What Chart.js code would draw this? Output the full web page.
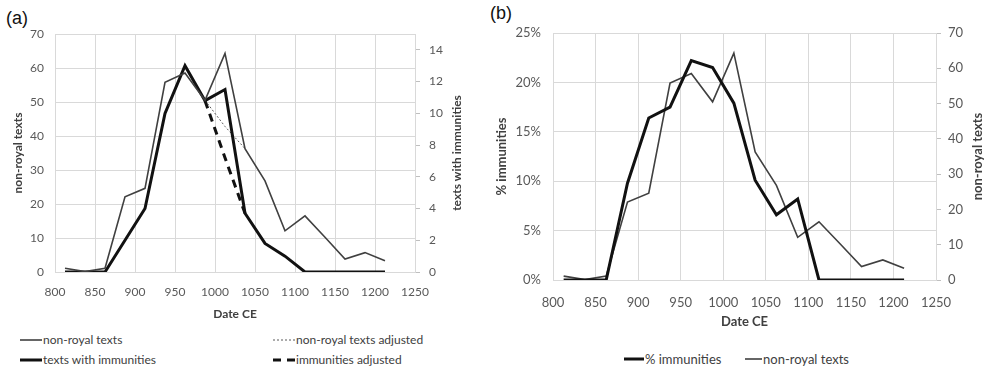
<!DOCTYPE html>
<html>
<head>
<meta charset="utf-8">
<script src="https://cdn.jsdelivr.net/npm/chart.js@4.4.0/dist/chart.umd.min.js"></script>
<style>
    body { margin: 0; background: #fff; width: 986px; height: 370px; position: relative; overflow: hidden; font-family: Lato, sans-serif; }
    .box { position: absolute; top: 0; }
    .tag { position: absolute; font-family: "Liberation Sans", Arial, sans-serif; font-size: 18px; color: #111; }
    .leg { position: absolute; color: #404040; white-space: nowrap; display: flex; align-items: center; }
    .leg svg { display: block; }
</style>
</head>
<body>
<div class="tag" style="left:6px;top:8px">(a)</div>
<div class="tag" style="left:490px;top:3px">(b)</div>
<div class="box" style="left:0;width:490px;height:325px"><canvas id="chartA"></canvas></div>
<div class="box" style="left:490px;width:496px;height:334px"><canvas id="chartB"></canvas></div>
<div id="legendA"></div>
<div id="legendB"></div>
<script>
// bin midpoints (Date CE)
const dates = [812.5, 837.5, 862.5, 887.5, 912.5, 937.5, 962.5, 987.5, 1012.5, 1037.5, 1062.5, 1087.5, 1112.5, 1137.5, 1162.5, 1187.5, 1212.5];
const nonRoyal = [1.1, 0.1, 1.1, 22.1, 24.6, 55.8, 58.5, 50.5, 64.3, 36.3, 26.8, 12.1, 16.5, 10.2, 3.8, 5.7, 3.3];
const immunities = [0, 0, 0, 2, 4, 10, 13, 10.8, 11.5, 3.7, 1.8, 1.0, 0, 0, 0, 0, 0];
const pctImmunities = [0, 0, 0, 9.8, 16.4, 17.5, 22.2, 21.5, 17.9, 10.1, 6.6, 8.2, 0, 0, 0, 0, 0];

// adjusted series only cover three bins
const adjDates = [987.5, 1012.5, 1037.5];
const nonRoyalAdj = [50.5, 42.8, 36.3];
const immunitiesAdj = [10.8, 7.2, 3.7];

// tick labels
const xTicks = [800, 850, 900, 950, 1000, 1050, 1100, 1150, 1200, 1250];
const nonRoyalTicks = [0, 10, 20, 30, 40, 50, 60, 70];
const immunityTicks = [0, 2, 4, 6, 8, 10, 12, 14];
const pctTicks = [0, 5, 10, 15, 20, 25];

const GRID = '#d9d9d9';
const TICK = '#595959';
const TITLE = '#404040';

function pts(xs, ys) {
    return xs.map((x, i) => ({ x: x, y: ys[i] }));
}

function fixedTicks(list) {
    return function (scale) {
        scale.ticks = list.map(v => ({ value: v }));
    };
}

// right-hand axis title, read bottom-to-top like the left one
const rightTitle = {
    id: 'rightTitle',
    afterDraw(chart, args, opts) {
        const ctx = chart.ctx;
        const a = chart.chartArea;
        ctx.save();
        ctx.translate(opts.x, (a.top + a.bottom) / 2);
        ctx.rotate(-Math.PI / 2);
        ctx.font = 'bold ' + opts.size + 'px Lato';
        ctx.fillStyle = TITLE;
        ctx.textAlign = 'center';
        ctx.textBaseline = 'middle';
        ctx.fillText(opts.text, 0, 0);
        ctx.restore();
    }
};

function xScale(fontSize, pad, height) {
    return {
        type: 'linear', min: 800, max: 1250,
        afterBuildTicks: fixedTicks(xTicks),
        afterFit: s => { s.height = height; },
        grid: { color: GRID, drawTicks: false },
        border: { color: GRID },
        ticks: { color: TICK, font: { family: 'Lato', size: fontSize }, padding: pad, callback: v => v },
        title: { display: true, text: 'Date CE', color: TITLE, font: { family: 'Lato', size: fontSize, weight: 'bold' }, padding: 4 }
    };
}

function setLine(color, width, dash) {
    return {
        borderColor: color, backgroundColor: color, borderWidth: width, borderDash: dash || [],
        pointRadius: 0, pointHoverRadius: 0, tension: 0, fill: false
    };
}

// ---- (a) ----
const dsA = [
    Object.assign({ label: 'non-royal texts', data: pts(dates, nonRoyal), yAxisID: 'y' }, setLine('#404040', 1.6)),
    Object.assign({ label: 'texts with immunities', data: pts(dates, immunities), yAxisID: 'y1' }, setLine('#111111', 3)),
    Object.assign({ label: 'non-royal texts adjusted', data: pts(adjDates, nonRoyalAdj), yAxisID: 'y' }, setLine('#595959', 1, [2, 2])),
    Object.assign({ label: 'immunities adjusted', data: pts(adjDates, immunitiesAdj), yAxisID: 'y1' }, setLine('#111111', 3, [8, 6]))
];

new Chart(document.getElementById('chartA'), {
    type: 'line',
    data: { datasets: dsA },
    plugins: [rightTitle],
    options: {
        responsive: true, maintainAspectRatio: false, animation: false,
        layout: { padding: { top: 34, left: 7, right: 22, bottom: 0 } },
        plugins: {
            legend: { display: false }, tooltip: { enabled: false },
            rightTitle: { text: 'texts with immunities', x: 457, size: 12 }
        },
        scales: {
            x: xScale(12, 13, 53),
            y: {
                min: 0, max: 70, position: 'left',
                afterBuildTicks: fixedTicks(nonRoyalTicks),
                afterFit: s => { s.width = 48; },
                grid: { color: GRID, drawTicks: false },
                border: { color: GRID },
                ticks: { color: TICK, font: { family: 'Lato', size: 12 }, padding: 11 },
                title: { display: true, text: 'non-royal texts', color: TITLE, font: { family: 'Lato', size: 12, weight: 'bold' }, padding: 4 }
            },
            y1: {
                min: 0, max: 15, position: 'right',
                afterBuildTicks: fixedTicks(immunityTicks),
                afterFit: s => { s.width = 53; },
                grid: { drawOnChartArea: false, color: '#bfbfbf', tickLength: 5 },
                border: { color: GRID },
                ticks: { color: TICK, font: { family: 'Lato', size: 12 }, padding: 9 }
            }
        }
    }
});

// ---- (b) ----
const dsB = [
    Object.assign({ label: '% immunities', data: pts(dates, pctImmunities), yAxisID: 'y' }, setLine('#111111', 3)),
    Object.assign({ label: 'non-royal texts', data: pts(dates, nonRoyal), yAxisID: 'y1' }, setLine('#404040', 1.6))
];

new Chart(document.getElementById('chartB'), {
    type: 'line',
    data: { datasets: dsB },
    plugins: [rightTitle],
    options: {
        responsive: true, maintainAspectRatio: false, animation: false,
        layout: { padding: { top: 33, left: 0, right: 0, bottom: 0 } },
        plugins: {
            legend: { display: false }, tooltip: { enabled: false },
            rightTitle: { text: 'non-royal texts', x: 488, size: 13 }
        },
        scales: {
            x: xScale(13, 15, 54),
            y: {
                min: 0, max: 25, position: 'left',
                afterBuildTicks: fixedTicks(pctTicks),
                afterFit: s => { s.width = 63; },
                grid: { color: GRID, drawTicks: false },
                border: { color: GRID },
                ticks: { color: TICK, font: { family: 'Lato', size: 13 }, padding: 12, callback: v => v + '%' },
                title: { display: true, text: '% immunities', color: TITLE, font: { family: 'Lato', size: 13, weight: 'bold' }, padding: 4 }
            },
            y1: {
                min: 0, max: 70, position: 'right',
                afterBuildTicks: fixedTicks(nonRoyalTicks),
                afterFit: s => { s.width = 50; },
                grid: { drawOnChartArea: false, color: '#bfbfbf', tickLength: 5 },
                border: { color: GRID },
                ticks: { color: TICK, font: { family: 'Lato', size: 13 }, padding: 7 }
            }
        }
    }
});

// HTML legends built from the datasets
function sample(ds, w) {
    const dash = ds.borderDash.length ? ` stroke-dasharray="${ds.borderDash.join(',')}"` : '';
    return `<svg width="${w}" height="6"><line x1="0" y1="3" x2="${w}" y2="3" stroke="${ds.borderColor}" stroke-width="${ds.borderWidth}"${dash}/></svg>`;
}

function legendItem(ds, left, top, w, size) {
    return `<div class="leg" style="left:${left}px;top:${top}px;font-size:${size}px">${sample(ds, w)}<span style="margin-left:1px">${ds.label}</span></div>`;
}

document.getElementById('legendA').innerHTML =
    legendItem(dsA[0], 20, 332, 22, 12) +
    legendItem(dsA[2], 273, 332, 22, 12) +
    legendItem(dsA[1], 20, 352, 22, 12) +
    legendItem(dsA[3], 273, 352, 22, 12);

document.getElementById('legendB').innerHTML =
    legendItem(dsB[0], 624, 351, 20, 13) +
    legendItem(dsB[1], 745, 351, 17, 13);
</script>
</body>
</html>
